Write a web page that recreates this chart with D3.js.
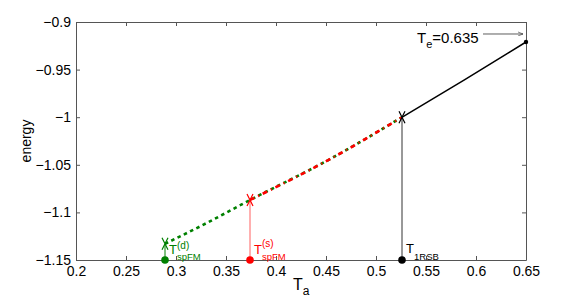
<!DOCTYPE html>
<html><head><meta charset="utf-8">
<script src="https://cdn.jsdelivr.net/npm/d3@7"></script>
<style>body{margin:0;background:#fff}svg{display:block}text{font-family:"Liberation Sans",Arial,sans-serif}</style>
</head><body>
<svg id="c" width="581" height="299"></svg>
<script>
const xTicks = [0.2,0.25,0.3,0.35,0.4,0.45,0.5,0.55,0.6,0.65];
const yTicks = [-0.9,-0.95,-1,-1.05,-1.1,-1.15];
// black branch (solid)
const blackT = [0.526,0.588,0.65];
const blackE = [-1.0,-0.961,-0.921];
// red branch (dash-dot)
const redT = [0.374,0.454,0.526];
const redE = [-1.087,-1.044,-1.0];
// green branch (dotted)
const greenT = [0.289,0.331,0.374,0.454,0.526];
const greenE = [-1.133,-1.111,-1.087,-1.044,-1.0];
// transition markers
const markT = [0.289,0.374,0.526];
const markE = [-1.133,-1.087,-1.0];
const markColor = ["#008000","#ff0000","#000000"];
const markLabelSup = ["(d)","(s)",""];
const markLabelSub = ["spFM","spFM","1RSB"];
const teLabel = "0.635";
const arrowT = [0.607,0.647];
const arrowE = -0.9126;

const svg = d3.select("#c");
const x = d3.scaleLinear().domain([0.2,0.65]).range([76,526]);
const y = d3.scaleLinear().domain([-1.15,-0.9]).range([260,22]);
const fmt = d3.format("~g");
const axc = "#555";

const gx = svg.append("g").attr("transform","translate(0,260)")
  .call(d3.axisBottom(x).tickValues(xTicks).tickFormat(fmt).tickSizeInner(-4).tickSizeOuter(0).tickPadding(6));
const gy = svg.append("g").attr("transform","translate(76,0)")
  .call(d3.axisLeft(y).tickValues(yTicks).tickFormat(fmt).tickSizeInner(-4).tickSizeOuter(0).tickPadding(5));
const gt = svg.append("g").attr("transform","translate(0,22)")
  .call(d3.axisTop(x).tickValues(xTicks).tickFormat("").tickSizeInner(-4).tickSizeOuter(0));
const gr = svg.append("g").attr("transform","translate(526,0)")
  .call(d3.axisRight(y).tickValues(yTicks).tickFormat("").tickSizeInner(-4).tickSizeOuter(0));
[gx,gy,gt,gr].forEach(g=>{
  g.selectAll("path,line").attr("stroke",axc);
  g.selectAll("text").attr("fill","#000").style("font-size","14px");
});
gx.selectAll("text").attr("dy","0.7em");

const line = d3.line().x(d=>x(d[0])).y(d=>y(d[1])).curve(d3.curveMonotoneX);
const zip = (a,b)=>a.map((v,i)=>[v,b[i]]);

// vertical drop lines
markT.forEach((t,i)=>{
  svg.append("line").attr("x1",x(t)).attr("x2",x(t)).attr("y1",y(markE[i])).attr("y2",y(-1.15))
    .attr("stroke", i==1?"#ff6060":(i==0?"#008000":"#333")).attr("stroke-width",1);
});

svg.append("path").attr("d",line(zip(greenT,greenE))).attr("fill","none")
  .attr("stroke","#008000").attr("stroke-width",2.6).attr("stroke-dasharray","3.5,3.5");
svg.append("path").attr("d",line(zip(redT,redE))).attr("fill","none")
  .attr("stroke","#ff0000").attr("stroke-width",2.6).attr("stroke-dasharray","5,4,1.2,4");
svg.append("path").attr("d",line(zip(blackT,blackE))).attr("fill","none")
  .attr("stroke","#000").attr("stroke-width",1.5);
svg.append("circle").attr("cx",x(blackT[2])).attr("cy",y(blackE[2])).attr("r",2.2).attr("fill","#000");

// X markers and dots
markT.forEach((t,i)=>{
  const cx=x(t), cy=y(markE[i]);
  svg.append("path").attr("d",`M${cx-3},${cy-6}L${cx+3},${cy+6}M${cx+3},${cy-6}L${cx-3},${cy+6}`)
    .attr("stroke",markColor[i]).attr("stroke-width",1.2).attr("fill","none");
  svg.append("circle").attr("cx",cx).attr("cy",y(-1.15)).attr("r",3.8).attr("fill",markColor[i]);
  const tx = cx+4;
  svg.append("text").attr("x",tx).attr("y",i==2?253:254).attr("fill",markColor[i]).style("font-size","13px").text("T");
  if(markLabelSup[i]) svg.append("text").attr("x",tx+8).attr("y",i==0?249:247).attr("fill",markColor[i]).style("font-size","10px").text(markLabelSup[i]);
  svg.append("text").attr("x",tx+8).attr("y",260).attr("fill",markColor[i]).style("font-size","9.5px").text(markLabelSub[i]);
});

// T_e label and arrow
svg.append("defs").append("marker").attr("id","ah").attr("viewBox","0 0 10 10").attr("refX",10).attr("refY",5)
  .attr("markerWidth",7).attr("markerHeight",5).attr("markerUnits","userSpaceOnUse").attr("orient","auto")
  .append("path").attr("d","M0,1L10,5L0,9").attr("fill","none").attr("stroke","#333").attr("stroke-width",1.2);
svg.append("line").attr("x1",x(arrowT[0])).attr("x2",x(arrowT[1])).attr("y1",y(arrowE)).attr("y2",y(arrowE))
  .attr("stroke","#333").attr("stroke-width",0.8).attr("marker-end","url(#ah)");
const te = svg.append("text").attr("x",417).attr("y",43).style("font-size","15px").attr("fill","#000");
te.append("tspan").text("T");
te.append("tspan").attr("dy",5).style("font-size","11px").text("e");
te.append("tspan").attr("dy",-5).text("="+teLabel);

// axis labels
svg.append("text").attr("transform","translate(31,141) rotate(-90)").attr("text-anchor","middle").style("font-size","14px").text("energy");
const xl = svg.append("text").attr("x",293).attr("y",290).style("font-size","16px");
xl.append("tspan").text("T");
xl.append("tspan").attr("dy",5).style("font-size","12px").text("a");
</script>
</body></html>
